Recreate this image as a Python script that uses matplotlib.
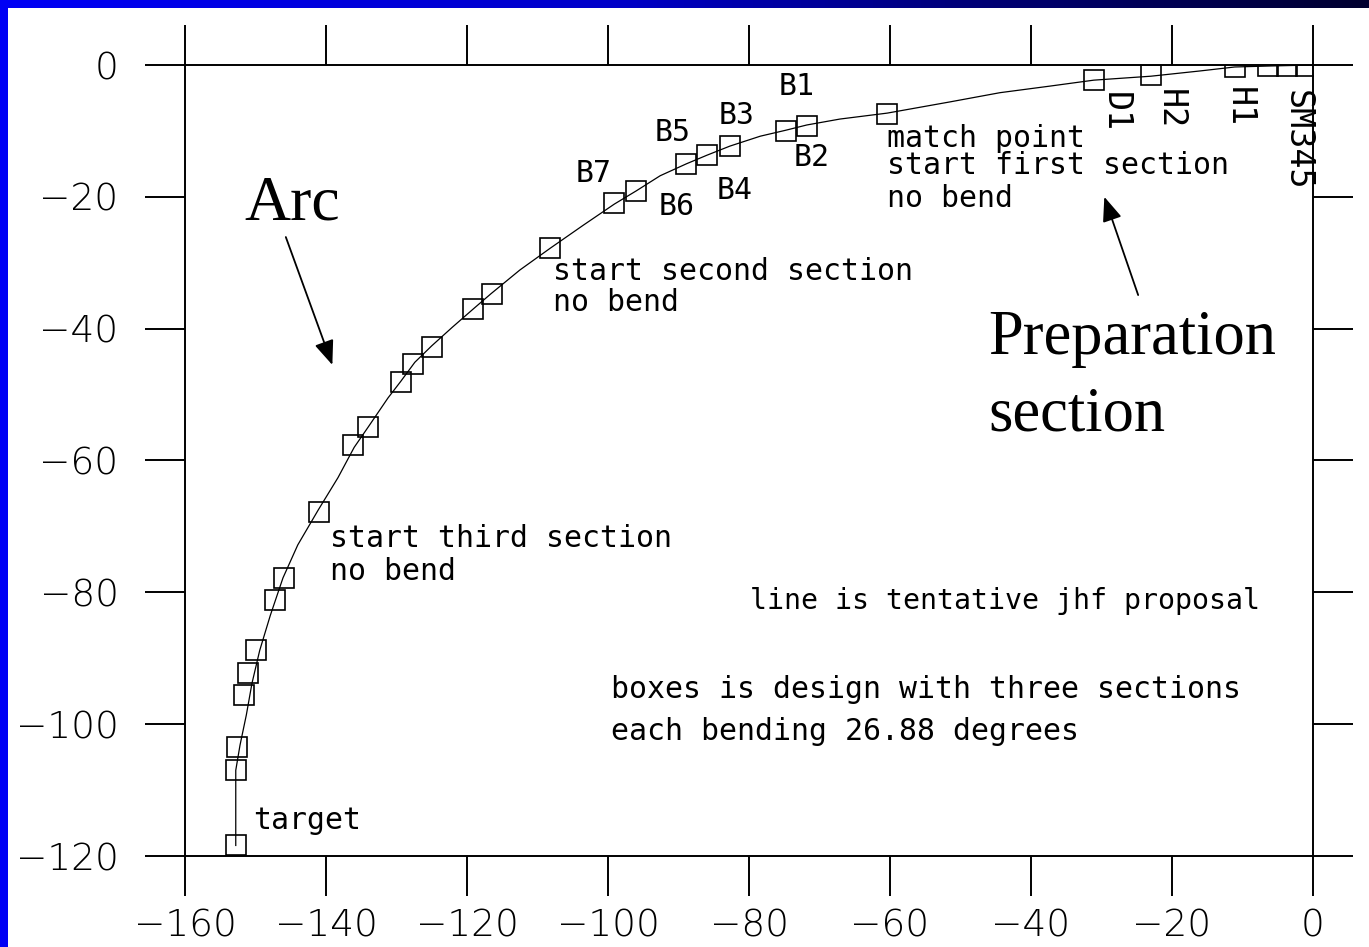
import matplotlib
matplotlib.use("Agg")
import matplotlib.pyplot as plt
import numpy as np

# design with three sections (boxes)
box_x = [-1.0, -3.7, -6.4, -11.1, -23.0, -31.1, -60.4, -71.8, -74.8, -82.7,
         -86.0, -88.9, -96.0, -99.1, -108.2, -116.5, -119.1, -125.0, -127.6,
         -129.4, -134.1, -136.1, -141.0, -146.0, -147.2, -150.0, -151.0,
         -151.6, -152.6, -152.8, -152.8]
box_y = [-0.1, -0.1, -0.1, -0.3, -1.5, -2.3, -7.4, -9.2, -10.0, -12.3,
         -13.7, -15.0, -19.1, -21.0, -27.8, -34.7, -37.0, -42.8, -45.3,
         -48.1, -54.9, -57.6, -67.8, -77.9, -81.1, -88.8, -92.2,
         -95.5, -103.4, -106.9, -118.4]

# tentative jhf proposal (line)
line_x = [-152.8, -152.8, -152.2, -151.3, -150.5, -149.4, -147.9, -146.1,
          -144.0, -141.1, -138.3, -136.0, -134.0, -131.2, -129.4, -127.4,
          -125.0, -122.1, -119.1, -116.6, -112.5, -108.2, -103.5, -99.1,
          -96.0, -92.6, -88.9, -86.0, -82.7, -78.4, -74.8, -71.8, -67.1,
          -60.4, -51.5, -44.4, -37.3, -31.1, -23.0, -16.0, -11.1, -6.1, 0.0]
line_y = [-118.4, -107.0, -103.2, -98.6, -93.8, -88.8, -83.5, -77.8,
          -72.8, -67.5, -62.6, -58.0, -54.9, -50.5, -48.0, -45.1,
          -42.6, -39.8, -37.0, -34.7, -31.1, -27.8, -24.3, -21.1,
          -19.1, -16.8, -15.0, -13.7, -12.3, -10.8, -9.9, -9.1, -8.2,
          -7.3, -5.6, -4.2, -3.2, -2.3, -1.7, -0.9, -0.3, -0.15, 0.0]

x_ticks = [-160, -140, -120, -100, -80, -60, -40, -20, 0]
y_ticks = [0, -20, -40, -60, -80, -100, -120]

mono = "DejaVu Sans Mono"

fig = plt.figure(figsize=(13.69, 9.47), dpi=100)
fig.patch.set_facecolor("white")

# slide border: blue strip left, gradient strip on top
fig.patches.append(plt.Rectangle((0, 0), 8 / 1369, 1, transform=fig.transFigure,
                                 facecolor="#0000f5", edgecolor="none", zorder=5))
top = fig.add_axes([0, 1 - 8 / 947, 1, 8 / 947])
grad = np.linspace(0, 1, 400)
cmap = matplotlib.colors.LinearSegmentedColormap.from_list(
    "slide", [(0, "#0000f5"), (0.45, "#0000c8"), (0.7, "#00007a"), (1, "#000030")])
top.imshow(grad[None, :], aspect="auto", cmap=cmap, extent=[0, 1, 0, 1])
top.axis("off")

ax = fig.add_axes([185 / 1369, 1 - 856 / 947, 1128 / 1369, 791 / 947])
ax.plot(line_x, line_y, color="black", lw=0.9, zorder=2)
ax.plot(box_x, box_y, linestyle="none", marker="s", ms=14, mfc="none",
        mec="black", mew=1.2, zorder=3)

ax.set_xlim(-160, 0)
ax.set_ylim(-120, 0)
ax.set_xticks(x_ticks)
ax.set_yticks(y_ticks)
ax.set_xticklabels([str(t).replace("-", "\u2212") for t in x_ticks])
ax.set_yticklabels([str(t).replace("-", "\u2212") for t in y_ticks])
for s in ax.spines.values():
    s.set_linewidth(1.4)
ax.tick_params(axis="both", direction="out", length=28.8, width=1.4,
               top=True, right=True, labelsize=27)
ax.tick_params(axis="y", pad=19)
ax.tick_params(axis="x", pad=9)
for lab in ax.get_xticklabels() + ax.get_yticklabels():
    lab.set_fontfamily("DejaVu Sans")
    lab.set_fontweight(200)

# magnet labels
tk = dict(fontfamily=mono, fontsize=21.5, ha="center", va="center")
for name, x, y in [("B1", -73.2, -3.3), ("B2", -71.1, -14.0), ("B3", -81.8, -7.6),
                   ("B4", -82.0, -19.0), ("B5", -90.9, -10.2), ("B6", -90.2, -21.4),
                   ("B7", -102.0, -16.5)]:
    ax.text(x, y, name, **tk)
for name, x, y in [("D1", -28.1, -7.1), ("H2", -20.3, -6.7), ("H1", -10.5, -6.4),
                   ("SM345", -2.3, -11.5)]:
    ax.text(x, y, name, rotation=-90, fontfamily=mono, fontsize=24,
            ha="center", va="center")

nt = dict(fontfamily=mono, fontsize=21.5, ha="left", va="center")
ax.text(-60.4, -11.1, "match point", **nt)
ax.text(-60.4, -15.3, "start first section", **nt)
ax.text(-60.4, -20.2, "no bend", **nt)
ax.text(-107.8, -31.3, "start second section", **nt)
ax.text(-107.8, -36.1, "no bend", **nt)
ax.text(-139.4, -71.8, "start third section", **nt)
ax.text(-139.4, -76.9, "no bend", **nt)
ax.text(-150.4, -114.6, "target", **nt)
ax.text(-79.9, -81.3, "line is tentative jhf proposal", fontfamily=mono,
        fontsize=20.3, ha="left", va="center")
ax.text(-99.6, -94.7, "boxes is design with three sections", **nt)
ax.text(-99.6, -101.1, "each bending 26.88 degrees", **nt)

# slide annotations
serif = "Liberation Serif"
arrow = dict(arrowstyle="-|>,head_length=1.5,head_width=0.6",
             color="black", lw=1.3, shrinkA=0, shrinkB=0)
ax.text(-144.8, -21.2, "Arc", fontfamily=serif, fontsize=46, ha="center", va="center")
ax.annotate("", xy=(-139.1, -45.5), xytext=(-145.7, -26.1), arrowprops=arrow)
ax.text(-46.1, -43.9, "Preparation", fontfamily=serif, fontsize=45, ha="left", va="baseline")
ax.text(-46.1, -55.4, "section", fontfamily=serif, fontsize=45, ha="left", va="baseline")
ax.annotate("", xy=(-29.6, -20.0), xytext=(-24.8, -34.9), arrowprops=arrow)

fig.savefig("out.png", dpi=100, facecolor="white")
